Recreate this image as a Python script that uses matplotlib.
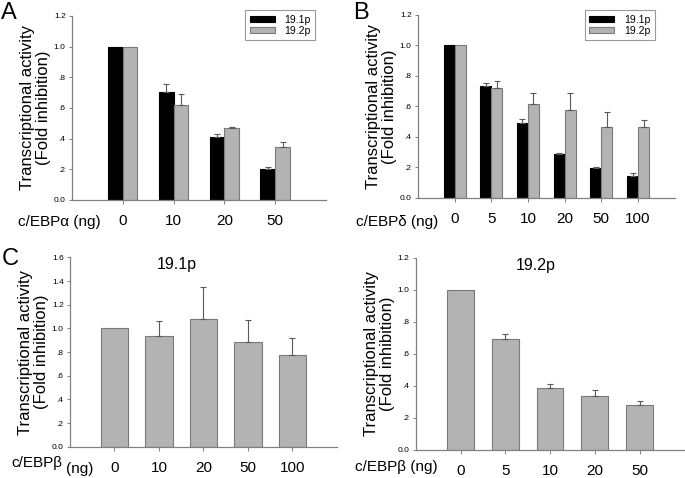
import numpy as np
import matplotlib
matplotlib.use("Agg")
import matplotlib.pyplot as plt

plt.rcParams['font.family'] = ['Liberation Sans', 'DejaVu Sans']

# Panel A: c/EBPalpha
a_doses = ['0', '10', '20', '50']
a_191 = [1.0, 0.702, 0.409, 0.204]
a_191_err = [0.0, 0.053, 0.019, 0.013]
a_192 = [1.0, 0.618, 0.472, 0.343]
a_192_err = [0.0, 0.072, 0.006, 0.037]

# Panel B: c/EBPdelta
b_doses = ['0', '5', '10', '20', '50', '100']
b_191 = [1.0, 0.735, 0.488, 0.290, 0.194, 0.144]
b_191_err = [0.0, 0.017, 0.031, 0.007, 0.011, 0.022]
b_192 = [1.0, 0.722, 0.617, 0.578, 0.467, 0.467]
b_192_err = [0.0, 0.045, 0.072, 0.111, 0.098, 0.045]

# Panel C: c/EBPbeta on 19.1p
c_doses = ['0', '10', '20', '50', '100']
c_vals = [1.0, 0.933, 1.079, 0.882, 0.775]
c_err = [0.0, 0.127, 0.268, 0.186, 0.146]

# Panel D: c/EBPbeta on 19.2p
d_doses = ['0', '5', '10', '20', '50']
d_vals = [1.0, 0.692, 0.384, 0.339, 0.283]
d_err = [0.0, 0.031, 0.025, 0.033, 0.025]

GRAY = '#b3b3b3'
EDGE = '#7a7a7a'
SPINE = '#808080'
ERR = '#5a5a5a'
YLABEL = 'Transcriptional activity\n(Fold inhibition)'
FS = 12


def style(ax, n, ymax, yticklabels):
    ax.set_xlim(-1, n)
    ax.set_ylim(0, ymax)
    ax.set_yticks(np.arange(0, ymax + 0.001, 0.2))
    ax.set_yticklabels(yticklabels, fontsize=6)
    for s in ['top', 'right']:
        ax.spines[s].set_visible(False)
    for s in ['left', 'bottom']:
        ax.spines[s].set_color(SPINE)
        ax.spines[s].set_linewidth(0.9)
    ax.tick_params(axis='y', length=2.5, width=0.7, color=SPINE, pad=2)
    ax.tick_params(axis='x', length=3, width=0.7, color=SPINE, pad=7,
                   labelsize=11)
    ax.set_ylabel(YLABEL, fontsize=FS, linespacing=1.1, labelpad=2)


def bars(ax, x, vals, err, width, color, edge):
    b = ax.bar(x, vals, width, color=color, edgecolor=edge, linewidth=0.8,
               zorder=2)
    x = np.asarray(x)
    vals = np.asarray(vals)
    err = np.asarray(err)
    m = err > 0
    ax.errorbar(x[m], vals[m], yerr=[np.zeros(m.sum()), err[m]], fmt='none',
                ecolor=ERR, elinewidth=0.8, capsize=2.5, capthick=0.8,
                zorder=3)
    return b


def legend(ax, handles, anchor):
    leg = ax.legend(handles, ['19.1p', '19.2p'], loc='upper right',
                    bbox_to_anchor=anchor, fontsize=7.5, fancybox=False,
                    edgecolor=SPINE, handlelength=2.4, handleheight=0.45,
                    borderpad=0.45, labelspacing=0.1, handletextpad=0.9,
                    borderaxespad=0)
    leg.get_frame().set_linewidth(0.8)


fig = plt.figure(figsize=(6.85, 4.78), dpi=100)

labels12 = ['0.0', '.2', '.4', '.6', '.8', '1.0', '1.2']
labels16 = ['0.0', '.2', '.4', '.6', '.8', '1.0', '1.2', '1.4', '1.6']

# A
axA = fig.add_axes([0.105, 0.5816, 0.371, 0.385])
x = np.arange(len(a_doses))
w = 0.29
h1 = bars(axA, x - w / 2, a_191, a_191_err, w, 'black', 'black')
h2 = bars(axA, x + w / 2, a_192, a_192_err, w, GRAY, EDGE)
style(axA, len(a_doses), 1.2, labels12)
axA.set_xticks(x)
axA.set_xticklabels(a_doses)
legend(axA, [h1, h2], (0.957, 1.033))
fig.text(0.026, 0.5356, 'c/EBP\u03b1 (ng)', fontsize=11, va='center')
fig.text(0.002, 0.972, 'A', fontsize=17, va='center')

# B
axB = fig.add_axes([0.610, 0.586, 0.375, 0.383])
x = np.arange(len(b_doses))
w = 0.30
h1 = bars(axB, x - w / 2, b_191, b_191_err, w, 'black', 'black')
h2 = bars(axB, x + w / 2, b_192, b_192_err, w, GRAY, EDGE)
style(axB, len(b_doses), 1.2, labels12)
axB.set_xticks(x)
axB.set_xticklabels(b_doses)
legend(axB, [h1, h2], (0.922, 1.027))
fig.text(0.519, 0.5356, 'c/EBP\u03b4 (ng)', fontsize=11, va='center')
fig.text(0.515, 0.972, 'B', fontsize=17, va='center')

# C
axC = fig.add_axes([0.102, 0.0655, 0.390, 0.396])
x = np.arange(len(c_doses))
bars(axC, x, c_vals, c_err, 0.61, GRAY, EDGE)
style(axC, len(c_doses), 1.6, labels16)
axC.set_xticks(x)
axC.set_xticklabels(c_doses)
axC.text(0.40, 0.96, '19.1p', transform=axC.transAxes, fontsize=11.5,
         ha='center', va='center')
fig.text(0.017, 0.032, 'c/EBP\u03b2', fontsize=11, va='center')
fig.text(0.097, 0.019, '(ng)', fontsize=11, va='center')
fig.text(0.002, 0.459, 'C', fontsize=17, va='center')

# D
axD = fig.add_axes([0.607, 0.0586, 0.392, 0.402])
x = np.arange(len(d_doses))
bars(axD, x, d_vals, d_err, 0.60, GRAY, EDGE)
style(axD, len(d_doses), 1.2, labels12)
axD.set_xticks(x)
axD.set_xticklabels(d_doses)
axD.text(0.446, 0.962, '19.2p', transform=axD.transAxes, fontsize=11.5,
         ha='center', va='center')
fig.text(0.518, 0.023, 'c/EBP\u03b2 (ng)', fontsize=11, va='center')

fig.savefig('out.png', dpi=100)
